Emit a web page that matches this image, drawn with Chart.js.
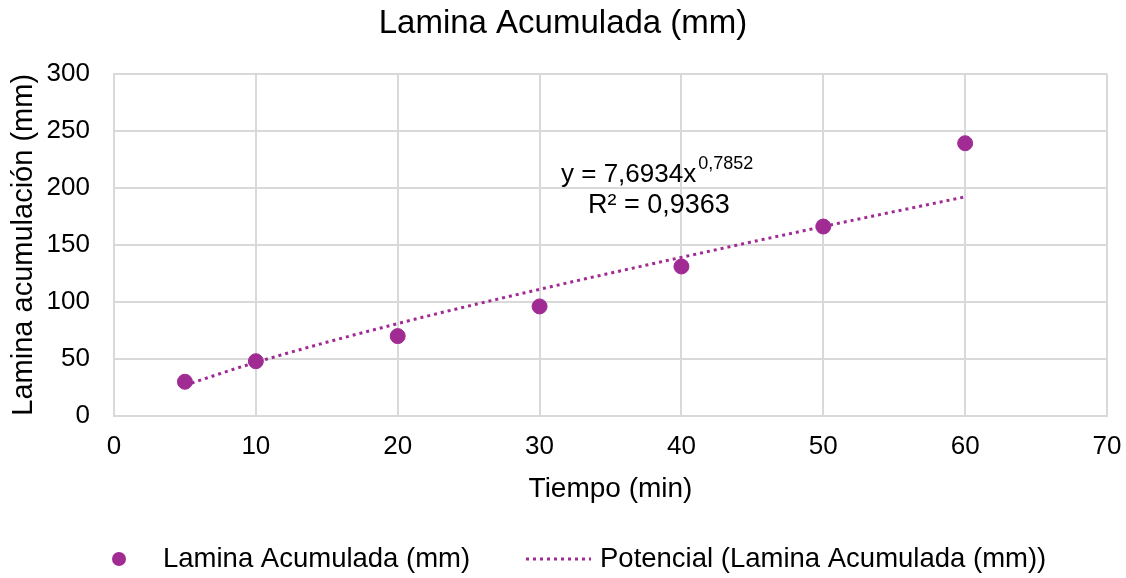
<!DOCTYPE html>
<html>
<head>
<meta charset="utf-8">
<script src="https://cdn.jsdelivr.net/npm/chart.js@4.4.1/dist/chart.umd.min.js"></script>
<style>
  html, body { margin: 0; padding: 0; background: #fff; }
  #wrap { width: 1126px; height: 578px; }
</style>
</head>
<body>
<div id="wrap"><canvas id="chart"></canvas></div>
<script>
// datos
var tiempo = [5, 10, 20, 30, 40, 50, 60];
var lamina = [30, 48, 70, 96, 131, 166, 239];
// linea de tendencia potencial
var potencial = [27, 47, 81, 111, 139, 166, 192];
var xTicks = [0, 10, 20, 30, 40, 50, 60, 70];
var yTicks = [0, 50, 100, 150, 200, 250, 300];

var morado = '#A02B93';
var fuente = "'Liberation Sans', Arial, sans-serif";

var puntos = tiempo.map(function (t, i) { return { x: t, y: lamina[i] }; });
var tendencia = tiempo.map(function (t, i) { return { x: t, y: potencial[i] }; });

// ecuacion de la tendencia
const ecuacion = {
  id: 'ecuacion',
  afterDatasetsDraw(chart) {
    const ctx = chart.ctx;
    ctx.save();
    ctx.fillStyle = '#000';
    ctx.textBaseline = 'alphabetic';
    ctx.textAlign = 'left';
    ctx.font = '26px ' + fuente;
    const x0 = 561, y0 = 182;
    ctx.fillText('y = 7,6934x', x0, y0);
    const w = ctx.measureText('y = 7,6934x').width;
    ctx.font = '18px ' + fuente;
    ctx.fillText('0,7852', x0 + w + 2, y0 - 13);
    ctx.font = '27px ' + fuente;
    ctx.fillText('R² = 0,9363', 588, 213);
    ctx.restore();
  }
};

// leyenda dibujada a mano
const leyenda = {
  id: 'leyenda',
  afterDraw(chart) {
    const ctx = chart.ctx;
    const ds = chart.data.datasets;
    const y = 559;
    ctx.save();
    ctx.font = '27.5px ' + fuente;
    ctx.textBaseline = 'middle';
    // marcador del punto
    ctx.beginPath();
    ctx.arc(119, y, 7, 0, Math.PI * 2);
    ctx.fillStyle = ds[0].backgroundColor;
    ctx.fill();
    ctx.fillStyle = '#000';
    ctx.fillText(ds[0].label, 163, y);
    // marcador de la linea punteada
    ctx.beginPath();
    ctx.strokeStyle = ds[1].borderColor;
    ctx.lineWidth = 3;
    ctx.setLineDash(ds[1].borderDash);
    ctx.moveTo(526, y);
    ctx.lineTo(591, y);
    ctx.stroke();
    ctx.setLineDash([]);
    ctx.fillText(ds[1].label, 600, y);
    ctx.restore();
  }
};

new Chart(document.getElementById('chart'), {
  type: 'scatter',
  data: {
    datasets: [
      {
        label: 'Lamina Acumulada (mm)',
        data: puntos,
        backgroundColor: morado,
        borderColor: morado,
        pointRadius: 7.5,
        pointHoverRadius: 7.5,
        order: 1
      },
      {
        label: 'Potencial (Lamina Acumulada (mm))',
        type: 'line',
        data: tendencia,
        borderColor: morado,
        backgroundColor: morado,
        borderWidth: 3,
        borderDash: [3, 4],
        pointRadius: 0,
        cubicInterpolationMode: 'monotone',
        fill: false,
        order: 2
      }
    ]
  },
  options: {
    responsive: true,
    maintainAspectRatio: false,
    animation: false,
    layout: { padding: { left: 0, right: 0, top: 0, bottom: 68 } },
    plugins: {
      legend: { display: false },
      tooltip: { enabled: false },
      title: {
        display: true,
        text: 'Lamina Acumulada (mm)',
        color: '#000',
        font: { family: fuente, size: 33, weight: 'normal' },
        padding: { top: 4, bottom: 30 }
      }
    },
    scales: {
      x: {
        type: 'linear',
        min: 0,
        max: 70,
        afterBuildTicks: function (axis) {
          axis.ticks = xTicks.map(function (v) { return { value: v }; });
        },
        afterFit: function (axis) {
          axis.height = 94;
          axis.paddingLeft = 0;
          axis.paddingRight = 19;
        },
        grid: { color: '#d9d9d9', lineWidth: 2, drawTicks: false },
        border: { color: '#d9d9d9', width: 2 },
        ticks: {
          color: '#000',
          padding: 15,
          font: { family: fuente, size: 26 }
        },
        title: {
          display: true,
          text: 'Tiempo (min)',
          color: '#000',
          font: { family: fuente, size: 28 },
          padding: { top: 12, bottom: 4 }
        }
      },
      y: {
        type: 'linear',
        min: 0,
        max: 300,
        afterBuildTicks: function (axis) {
          axis.ticks = yTicks.map(function (v) { return { value: v }; });
        },
        afterFit: function (axis) {
          axis.width = 114;
          axis.paddingTop = 0;
          axis.paddingBottom = 0;
        },
        grid: { color: '#d9d9d9', lineWidth: 2, drawTicks: false },
        border: { color: '#d9d9d9', width: 2 },
        ticks: {
          color: '#000',
          padding: 24,
          font: { family: fuente, size: 26 }
        },
        title: {
          display: true,
          text: 'Lamina acumulación (mm)',
          color: '#000',
          font: { family: fuente, size: 29 },
          padding: { top: 7, bottom: 0 }
        }
      }
    }
  },
  plugins: [ecuacion, leyenda]
});
</script>
</body>
</html>
